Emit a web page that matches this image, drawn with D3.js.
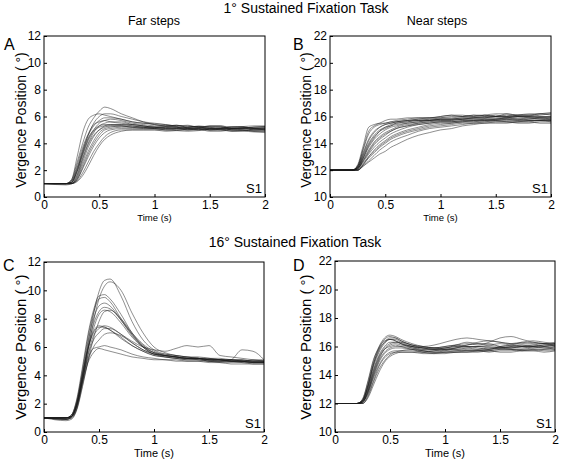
<!DOCTYPE html>
<html><head><meta charset="utf-8">
<script src="https://cdn.jsdelivr.net/npm/d3@7"></script>
<style>body{margin:0;background:#fff}text{font-family:"Liberation Sans",Arial,sans-serif;fill:#000}</style>
</head><body>
<script>
// time samples (s)
const T = [0,0.2,0.25,0.3,0.35,0.4,0.45,0.5,0.55,0.6,0.7,0.8,0.9,1.0,1.1,1.2,1.3,1.4,1.5,1.6,1.7,1.8,1.9,2.0];
const xTicks = [0,0.5,1,1.5,2];
const xTickLabels = ["0","0.5","1","1.5","2"];
const yTicksFar = [0,2,4,6,8,10,12];
const yTicksNear = [10,12,14,16,18,20,22];

// A: 1° task, far steps
const tracesA = [
[1,1,1.3,2.6,4.0,5.2,5.9,6.4,6.7,6.6,6.2,5.9,5.6,5.4,5.3,5.35,5.2,5.3,5.2,5.1,5.25,5.2,5.1,5.0],
[1,1,1.3,3.0,4.8,5.8,6.1,6.2,6.1,6.0,5.8,5.6,5.5,5.45,5.4,5.3,5.35,5.2,5.25,5.2,5.1,5.15,5.2,5.2],
[1,1,1.1,2.0,3.4,4.6,5.5,6.0,6.2,6.2,6.0,5.8,5.6,5.5,5.4,5.3,5.3,5.2,5.3,5.3,5.2,5.25,5.1,5.1],
[1,1,1.2,2.2,3.5,4.6,5.3,5.7,5.9,5.9,5.8,5.6,5.5,5.4,5.3,5.35,5.2,5.25,5.1,5.15,5.2,5.2,5.1,5.15],
[1,1,1.1,1.9,3.2,4.3,5.0,5.5,5.7,5.8,5.7,5.5,5.4,5.3,5.3,5.2,5.1,5.15,5.2,5.25,5.0,5.05,5.1,5.1],
[1,1,1.05,1.7,2.9,4.0,4.8,5.3,5.5,5.6,5.6,5.4,5.3,5.2,5.25,5.2,5.1,5.1,5.15,5.1,5.1,5.15,5.0,5.0],
[1,1,1.0,1.5,2.6,3.7,4.5,5.0,5.3,5.4,5.4,5.4,5.3,5.2,5.2,5.1,5.2,5.25,5.0,5.05,5.1,5.1,5.2,5.25],
[1,1,1.0,1.4,2.4,3.4,4.2,4.8,5.1,5.2,5.3,5.3,5.2,5.2,5.1,5.15,5.0,5.05,5.1,5.1,5.0,4.95,5.0,5.0],
[1,1,1.0,1.3,2.1,3.0,3.8,4.4,4.8,5.0,5.1,5.1,5.1,5.1,5.0,5.05,5.1,5.1,5.0,5.0,4.9,4.95,5.0,5.0],
[1,0.95,1.0,1.2,1.8,2.6,3.4,4.0,4.5,4.8,5.0,5.0,5.0,5.0,5.0,4.95,4.9,4.95,5.0,5.0,4.9,4.9,4.85,4.8],
[1,1,1.0,1.15,1.6,2.3,3.1,3.8,4.3,4.6,4.9,5.0,5.0,5.0,4.9,4.95,5.0,5.05,4.9,4.9,5.0,5.0,4.9,4.9],
[1,1,1.2,2.4,3.7,4.7,5.4,5.6,5.7,5.6,5.5,5.4,5.3,5.2,5.2,5.25,5.2,5.2,5.3,5.3,5.1,5.15,5.2,5.25],
[1,1,1.1,2.1,3.3,4.4,5.0,5.3,5.4,5.4,5.4,5.3,5.2,5.2,5.1,5.1,5.2,5.2,5.1,5.15,5.2,5.25,5.3,5.3],
[1,1,1.0,1.6,2.8,3.9,4.6,5.0,5.2,5.3,5.3,5.2,5.2,5.1,5.2,5.2,5.1,5.1,5.0,5.05,5.1,5.1,5.1,5.15],
[1,0.9,1.0,1.3,2.2,3.2,4.0,4.6,5.0,5.1,5.2,5.2,5.1,5.1,5.0,5.0,5.05,5.0,5.1,5.1,5.0,5.0,4.9,4.9],
[1,1,1.1,1.9,3.1,4.2,4.9,5.2,5.3,5.3,5.3,5.2,5.2,5.1,5.1,5.1,5.0,5.0,5.05,5.0,5.1,5.1,5.0,5.05]
];

// B: 1° task, near steps
const tracesB = [
[12,12,12.4,13.8,15.2,15.4,15.5,15.5,15.6,15.6,15.7,15.8,15.8,15.9,16.0,16.0,16.1,16.0,16.1,16.0,16.1,16.2,16.2,16.1],
[12,12,12.3,13.5,14.7,15.2,15.4,15.5,15.6,15.7,15.8,15.9,15.9,16.0,16.1,16.1,16.0,16.1,16.0,16.2,16.1,16.1,16.2,16.3],
[12,12,12.3,13.3,14.3,14.9,15.2,15.4,15.5,15.6,15.7,15.8,15.9,15.9,15.9,16.0,16.1,16.1,16.0,16.1,16.0,16.0,16.1,16.2],
[12,12,12.2,13.1,14.0,14.6,15.0,15.2,15.4,15.5,15.6,15.7,15.7,15.8,15.8,15.9,15.9,15.9,16.0,16.0,16.1,16.1,16.0,16.0],
[12,12,12.2,12.9,13.7,14.3,14.7,15.0,15.2,15.3,15.5,15.6,15.7,15.8,15.8,15.8,15.9,15.9,15.9,15.9,16.0,16.0,15.9,15.9],
[12,12,12.1,12.8,13.5,14.1,14.5,14.8,15.0,15.2,15.4,15.5,15.6,15.7,15.7,15.8,15.8,15.8,15.8,15.9,15.8,15.8,15.9,15.9],
[12,12,12.1,12.7,13.3,13.9,14.3,14.6,14.9,15.1,15.3,15.5,15.6,15.6,15.6,15.7,15.7,15.8,15.8,15.8,15.8,15.9,15.9,15.8],
[12,12,12.1,12.6,13.2,13.7,14.1,14.4,14.7,14.9,15.2,15.4,15.5,15.6,15.6,15.7,15.7,15.7,15.7,15.8,15.8,15.7,15.7,15.8],
[12,12,12.0,12.5,13.0,13.5,13.9,14.2,14.5,14.7,15.0,15.2,15.4,15.5,15.5,15.6,15.6,15.7,15.7,15.7,15.7,15.8,15.8,15.7],
[12,12,12.0,12.4,12.9,13.3,13.7,14.0,14.3,14.5,14.8,15.0,15.2,15.3,15.4,15.5,15.5,15.6,15.6,15.6,15.6,15.7,15.7,15.6],
[12,12,12.0,12.3,12.7,13.1,13.5,13.8,14.1,14.3,14.6,14.9,15.1,15.2,15.3,15.4,15.5,15.5,15.6,15.6,15.5,15.5,15.6,15.6],
[12,12,12.0,12.3,12.6,12.9,13.2,13.4,13.7,13.9,14.3,14.6,14.8,15.0,15.1,15.3,15.4,15.5,15.5,15.5,15.6,15.6,15.5,15.5],
[12,12,12.3,13.6,14.9,15.3,15.5,15.7,15.8,15.8,15.9,15.9,15.9,16.0,16.1,16.0,16.0,16.1,16.2,16.2,16.1,16.1,16.2,16.2],
[12,12,12.2,13.2,14.2,14.8,15.2,15.4,15.5,15.6,15.7,15.7,15.8,15.8,15.8,15.9,15.9,16.0,16.0,15.9,16.0,16.0,16.0,16.0],
[12,12,12.1,12.9,13.8,14.4,14.9,15.1,15.3,15.4,15.5,15.6,15.7,15.7,15.7,15.8,15.8,15.8,15.8,15.9,15.9,15.9,15.8,15.8],
[12,12,12.1,12.7,13.4,14.0,14.4,14.7,14.9,15.1,15.3,15.4,15.5,15.6,15.6,15.6,15.7,15.7,15.8,15.8,15.7,15.7,15.7,15.7],
[12,12,12.2,13.0,13.9,14.5,14.9,15.2,15.3,15.5,15.6,15.7,15.7,15.8,15.8,15.8,15.9,15.9,16.0,16.0,16.0,15.9,15.9,15.9],
[12,12,12.0,12.4,13.0,13.4,13.8,14.1,14.4,14.6,14.9,15.1,15.3,15.4,15.5,15.6,15.6,15.6,15.7,15.6,15.6,15.6,15.7,15.7]
];

// C: 16° task, far steps
const tracesC = [
[1,0.9,1.1,2.0,4.0,6.2,8.3,9.9,10.7,10.8,9.6,7.8,6.5,5.8,5.5,5.4,5.3,5.3,5.2,5.1,5.1,5.0,4.9,4.9],
[1,0.9,1.0,1.7,3.6,5.8,7.8,9.4,10.3,10.6,10.0,8.4,7.0,6.0,5.6,5.4,5.3,5.2,5.2,5.2,5.1,5.1,5.0,5.0],
[1,1.0,1.2,2.4,4.6,6.9,8.6,9.6,9.7,9.4,8.3,7.0,6.1,5.6,5.4,5.3,5.2,5.2,5.1,5.1,5.0,5.0,5.1,5.1],
[1,1.0,1.2,2.3,4.4,6.7,8.4,9.4,9.5,9.2,8.0,6.9,6.0,5.5,5.4,5.3,5.2,5.2,5.1,5.1,5.0,5.0,4.9,4.9],
[1,1.0,1.1,2.1,4.2,6.4,8.0,8.9,9.1,8.9,7.9,6.8,6.0,5.5,5.4,5.3,5.2,5.2,5.0,5.0,5.0,5.0,4.9,4.9],
[1,0.9,1.1,2.0,3.9,6.0,7.6,8.5,8.8,8.7,7.9,6.9,6.1,5.6,5.4,5.3,5.2,5.2,5.2,5.1,5.0,5.0,5.0,5.0],
[1,1.0,1.1,2.0,3.8,5.8,7.3,8.3,8.6,8.5,7.7,6.7,6.0,5.6,5.5,5.4,5.3,5.2,5.1,5.1,5.1,5.0,5.0,5.0],
[1,1.0,1.2,2.2,4.1,5.9,7.0,7.4,7.4,7.2,6.6,6.1,5.7,5.4,5.3,5.2,5.2,5.1,5.1,5.1,5.0,5.0,4.9,4.9],
[1,0.9,1.0,1.8,3.6,5.5,6.8,7.3,7.5,7.4,6.9,6.3,5.8,5.5,5.4,5.3,5.2,5.2,5.1,5.1,5.1,5.1,5.0,5.0],
[1,1.0,1.1,1.9,3.6,5.4,6.5,7.0,7.3,7.3,6.9,6.4,6.0,5.8,5.7,5.9,6.1,6.0,6.1,5.4,5.3,5.2,5.1,5.0],
[1,0.9,1.0,1.7,3.3,5.0,6.0,6.5,6.9,7.0,6.8,6.3,5.8,5.5,5.3,5.2,5.1,5.1,5.0,5.0,5.1,5.8,5.7,5.1],
[1,1.0,1.1,2.0,3.7,5.2,5.9,6.0,6.1,6.0,5.8,5.5,5.3,5.2,5.1,5.1,5.0,5.0,5.0,4.9,4.9,4.9,4.8,4.8],
[1,1.0,1.1,1.9,3.5,4.9,5.6,5.9,5.8,5.7,5.5,5.3,5.2,5.1,5.1,5.0,5.0,5.0,4.9,4.9,4.8,4.8,4.8,4.8],
[1,0.8,0.9,1.6,3.2,5.0,6.6,7.8,8.5,8.6,8.0,7.0,6.2,5.7,5.4,5.3,5.2,5.2,5.1,5.0,5.0,5.0,5.0,5.0],
[1,1.0,1.1,2.1,4.0,5.9,7.1,7.5,7.4,7.2,6.7,6.1,5.7,5.4,5.3,5.2,5.1,5.1,5.0,5.0,5.0,4.9,4.9,4.9]
];

// D: 16° task, near steps
const tracesD = [
[12,12,12.3,13.5,15.0,16.0,16.6,16.8,16.7,16.5,16.2,16.0,15.9,16.0,16.1,16.2,16.1,16.3,16.6,16.7,16.5,16.3,16.2,16.1],
[12,12,12.2,13.3,14.8,15.9,16.5,16.7,16.6,16.4,16.1,16.0,16.1,16.3,16.5,16.6,16.5,16.4,16.3,16.2,16.3,16.2,16.2,16.3],
[12,12,12.3,13.6,15.1,15.9,16.4,16.5,16.4,16.2,16.0,15.9,15.9,16.0,16.1,16.0,16.0,16.1,16.2,16.1,16.0,16.0,16.1,16.0],
[12,12,12.2,13.2,14.6,15.6,16.2,16.5,16.5,16.3,16.0,15.8,15.8,15.9,16.0,16.1,16.2,16.2,16.0,15.9,16.0,16.1,16.2,16.1],
[12,12,12.2,13.1,14.4,15.4,16.0,16.3,16.3,16.2,16.0,15.9,15.8,15.8,15.9,16.0,16.0,15.9,15.9,16.0,16.1,16.1,16.0,15.9],
[12,12,12.1,12.9,14.2,15.2,15.8,16.1,16.2,16.1,16.0,15.9,15.9,15.8,15.8,15.9,16.0,16.0,15.9,15.9,16.0,16.0,15.9,16.0],
[12,12,12.1,12.8,14.0,15.0,15.6,15.9,16.0,16.0,15.9,15.8,15.8,15.7,15.7,15.8,15.8,15.9,15.9,15.8,15.8,15.9,15.9,15.8],
[12,12,12.1,12.7,13.8,14.7,15.3,15.6,15.7,15.7,15.7,15.6,15.6,15.6,15.7,15.7,15.7,15.7,15.8,15.8,15.7,15.8,15.8,15.8],
[12,12,12.0,12.5,13.5,14.4,15.0,15.4,15.6,15.7,15.8,15.7,15.6,15.6,15.6,15.6,15.7,15.7,15.8,15.8,15.7,15.7,15.8,15.9],
[12,12,12.0,12.4,13.3,14.2,14.9,15.3,15.5,15.6,15.6,15.5,15.5,15.6,15.6,15.7,15.7,15.6,15.7,15.7,15.8,15.8,15.7,15.7],
[12,12,12.2,13.3,14.8,15.8,16.3,16.5,16.4,16.2,15.9,15.7,15.6,15.7,15.9,16.1,16.3,16.4,16.3,16.2,16.2,16.3,16.2,16.2],
[12,12,12.1,13.0,14.3,15.3,15.9,16.2,16.3,16.3,16.1,15.9,15.8,15.9,16.0,16.0,15.9,15.8,15.9,16.0,16.0,15.9,16.0,16.1],
[12,12,12.1,12.8,13.9,14.9,15.5,15.8,15.9,15.9,15.8,15.7,15.7,15.8,15.9,15.9,15.8,15.8,16.0,16.1,16.1,16.0,16.0,16.1],
[12,12,12.0,12.6,13.6,14.6,15.2,15.5,15.6,15.6,15.6,15.6,15.7,15.8,15.8,15.7,15.7,15.8,15.9,15.9,15.9,16.0,16.1,16.2],
[12,12,12.2,13.2,14.7,15.7,16.3,16.6,16.6,16.4,16.1,16.0,15.9,15.9,16.1,16.3,16.2,16.1,16.0,16.1,16.3,16.4,16.3,16.2],
[12,12,12.1,12.9,14.1,15.1,15.8,16.0,16.1,16.0,15.8,15.6,15.5,15.5,15.6,15.6,15.6,15.7,15.6,15.6,15.7,15.7,15.6,15.7]
];

const rowTitles = ["1° Sustained Fixation Task", "16° Sustained Fixation Task"];
const colTitles = ["Far steps", "Near steps"];
const panelLetters = ["A","B","C","D"];
const subjectLabel = "S1";
const xLabel = "Time (s)";
const yLabel = "Vergence Position ( °)";

// layout (pixel geometry)
const layout = [
  {traces: tracesA, yTicks: yTicksFar, x0:44, x1:265, y0:36, y1:197, letter:[4,50], ylab:[21,120], small:true},
  {traces: tracesB, yTicks: yTicksNear, x0:330, x1:551, y0:36, y1:197, letter:[293,50], ylab:[306,120], small:true},
  {traces: tracesC, yTicks: yTicksFar, x0:44, x1:264, y0:262, y1:432, letter:[3,271], ylab:[21,347], small:false},
  {traces: tracesD, yTicks: yTicksNear, x0:335, x1:555, y0:261, y1:432, letter:[293,271], ylab:[306,347], small:false}
];

const W = 563, H = 464;
const svg = d3.select("body").append("svg").attr("width", W).attr("height", H);

svg.append("text").attr("x", 306).attr("y", 13).attr("text-anchor","middle").style("font-size","14px").text(rowTitles[0]);
svg.append("text").attr("x", 295).attr("y", 247).attr("text-anchor","middle").style("font-size","14px").text(rowTitles[1]);
svg.append("text").attr("x", 154).attr("y", 25).attr("text-anchor","middle").style("font-size","12.5px").text(colTitles[0]);
svg.append("text").attr("x", 437).attr("y", 25).attr("text-anchor","middle").style("font-size","12.5px").text(colTitles[1]);

layout.forEach((p, i) => {
  const x = d3.scaleLinear().domain([0, 2]).range([p.x0, p.x1]);
  const y = d3.scaleLinear().domain([p.yTicks[0], p.yTicks[p.yTicks.length-1]]).range([p.y1, p.y0]);
  const g = svg.append("g");
  const clipId = "clip" + i;
  g.append("clipPath").attr("id", clipId).append("rect")
    .attr("x", p.x0).attr("y", p.y0).attr("width", p.x1 - p.x0).attr("height", p.y1 - p.y0);
  const line = d3.line().x((d, k) => x(T[k])).y(d => y(d)).curve(d3.curveMonotoneX);
  g.append("g").attr("clip-path", `url(#${clipId})`).selectAll("path").data(p.traces).join("path")
    .attr("d", line).attr("fill","none").attr("stroke","#1a1a1a").attr("stroke-width",0.7).attr("stroke-opacity",0.7);

  const fs = "12px";
  const xa = g.append("g").attr("transform", `translate(0,${p.y1})`)
    .call(d3.axisBottom(x).tickValues(xTicks).tickFormat((d, k) => xTickLabels[k]).tickSize(-3).tickPadding(3));
  const ya = g.append("g").attr("transform", `translate(${p.x0},0)`)
    .call(d3.axisLeft(y).tickValues(p.yTicks).tickFormat(d3.format("d")).tickSize(-3).tickPadding(3));
  [xa, ya].forEach(a => {
    a.select(".domain").remove();
    a.selectAll("line").attr("stroke","#000");
    a.selectAll("text").style("font-size", fs).style("font-family", '"Liberation Sans",Arial,sans-serif');
  });
  g.append("rect").attr("x", p.x0).attr("y", p.y0).attr("width", p.x1 - p.x0).attr("height", p.y1 - p.y0)
    .attr("fill","none").attr("stroke","#000").attr("stroke-width",1);

  g.append("text").attr("x", (p.x0 + p.x1)/2).attr("y", p.y1 + (p.small ? 24 : 25)).attr("text-anchor","middle")
    .style("font-size", p.small ? "9.5px" : "11px").text(xLabel);
  g.append("text").attr("transform", `translate(${p.ylab[0]},${p.ylab[1]}) rotate(-90)`).attr("text-anchor","middle")
    .attr("dy","0.35em").style("font-size", p.small ? "14px" : "15px").text(yLabel);
  g.append("text").attr("x", p.letter[0]).attr("y", p.letter[1]).style("font-size","16px").text(panelLetters[i]);
  g.append("text").attr("x", p.x1 - 3).attr("y", p.y1 - 4).attr("text-anchor","end").style("font-size","13px").text(subjectLabel);
});
</script>
</body></html>
